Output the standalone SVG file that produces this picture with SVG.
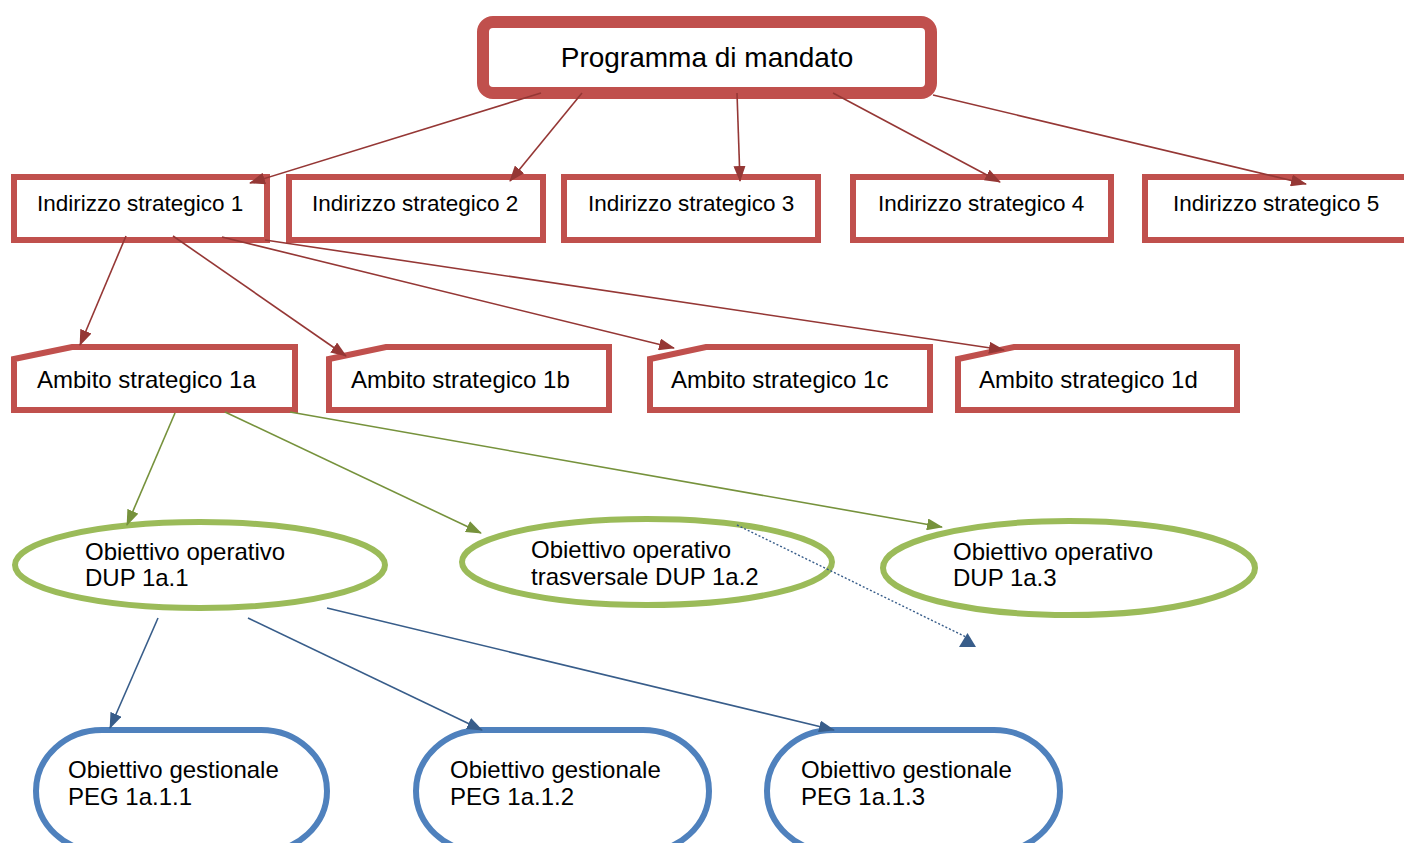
<svg xmlns="http://www.w3.org/2000/svg" width="1404" height="843" viewBox="0 0 1404 843">
<style>
text{font-family:"Liberation Sans",Arial,sans-serif;fill:#000}
.t{font-size:24px}
.ti{font-size:22.5px}
.red{fill:#fff;stroke:#C0504D;stroke-width:6}
.grn{fill:#fff;stroke:#9BBB59;stroke-width:6}
.blu{fill:#fff;stroke:#4F81BD;stroke-width:6}
.cr{stroke:#953735;stroke-width:1.6;fill:none;marker-end:url(#ar)}
.cg{stroke:#76923C;stroke-width:1.6;fill:none;marker-end:url(#ag)}
.cb{stroke:#385D8A;stroke-width:1.6;fill:none;marker-end:url(#ab)}
</style>
<defs>
<marker id="ar" markerUnits="userSpaceOnUse" markerWidth="16" markerHeight="12" refX="15" refY="6" orient="auto"><path d="M0,0 L16,6 L0,12 Z" fill="#953735"/></marker>
<marker id="ag" markerUnits="userSpaceOnUse" markerWidth="16" markerHeight="12" refX="15" refY="6" orient="auto"><path d="M0,0 L16,6 L0,12 Z" fill="#76923C"/></marker>
<marker id="ab" markerUnits="userSpaceOnUse" markerWidth="16" markerHeight="12" refX="15" refY="6" orient="auto"><path d="M0,0 L16,6 L0,12 Z" fill="#385D8A"/></marker>
</defs>
<rect width="1404" height="843" fill="#fff"/>
<g id="programma">
<rect x="483" y="22" width="448" height="71" rx="10" fill="#fff" stroke="#C0504D" stroke-width="12"/>
<text x="707" y="67" font-size="28" text-anchor="middle">Programma di mandato</text>
</g>
<g id="indirizzo1"><rect class="red" x="14" y="177" width="253" height="63"/><text class="ti" x="37" y="211">Indirizzo strategico 1</text></g>
<g id="indirizzo2"><rect class="red" x="289" y="177" width="254" height="63"/><text class="ti" x="312" y="211">Indirizzo strategico 2</text></g>
<g id="indirizzo3"><rect class="red" x="564" y="177" width="254" height="63"/><text class="ti" x="588" y="211">Indirizzo strategico 3</text></g>
<g id="indirizzo4"><rect class="red" x="853" y="177" width="258" height="63"/><text class="ti" x="878" y="211">Indirizzo strategico 4</text></g>
<g id="indirizzo5"><rect class="red" x="1145" y="177" width="270" height="63"/><text class="ti" x="1173" y="211">Indirizzo strategico 5</text></g>
<g id="ambito1a"><path class="red" d="M14,359 L72,347 L295,347 L295,410 L14,410 Z"/><text class="t" x="37" y="388">Ambito strategico 1a</text></g>
<g id="ambito1b"><path class="red" d="M329,359 L386,347 L609,347 L609,410 L329,410 Z"/><text class="t" x="351" y="388">Ambito strategico 1b</text></g>
<g id="ambito1c"><path class="red" d="M650,359 L706,347 L930,347 L930,410 L650,410 Z"/><text class="t" x="671" y="388">Ambito strategico 1c</text></g>
<g id="ambito1d"><path class="red" d="M958,359 L1014,347 L1237,347 L1237,410 L958,410 Z"/><text class="t" x="979" y="388">Ambito strategico 1d</text></g>
<g id="dup1"><ellipse class="grn" cx="200" cy="565" rx="185" ry="43"/><text class="t" x="85" y="560">Obiettivo operativo</text><text class="t" x="85" y="586">DUP 1a.1</text></g>
<g id="dup2"><ellipse class="grn" cx="647" cy="562" rx="185" ry="43"/><text class="t" x="531" y="558">Obiettivo operativo</text><text class="t" x="531" y="585">trasversale DUP 1a.2</text></g>
<g id="dup3"><ellipse class="grn" cx="1069" cy="568" rx="186" ry="47"/><text class="t" x="953" y="560">Obiettivo operativo</text><text class="t" x="953" y="586">DUP 1a.3</text></g>
<g id="peg1"><rect class="blu" x="36" y="730" width="291" height="122" rx="66" ry="61"/><text class="t" x="68" y="778">Obiettivo gestionale</text><text class="t" x="68" y="805">PEG 1a.1.1</text></g>
<g id="peg2"><rect class="blu" x="416" y="730" width="293" height="122" rx="66" ry="61"/><text class="t" x="450" y="778">Obiettivo gestionale</text><text class="t" x="450" y="805">PEG 1a.1.2</text></g>
<g id="peg3"><rect class="blu" x="767" y="730" width="293" height="122" rx="66" ry="61"/><text class="t" x="801" y="778">Obiettivo gestionale</text><text class="t" x="801" y="805">PEG 1a.1.3</text></g>
<g id="connectors">
<line class="cr" x1="541" y1="93" x2="250" y2="183"/>
<line class="cr" x1="582" y1="93" x2="510" y2="181"/>
<line class="cr" x1="737" y1="93" x2="740" y2="181"/>
<line class="cr" x1="833" y1="93" x2="1000" y2="182"/>
<line class="cr" x1="933" y1="95" x2="1306" y2="184"/>
<line class="cr" x1="126" y1="236" x2="80" y2="345"/>
<line class="cr" x1="173" y1="236" x2="346" y2="356"/>
<line class="cr" x1="222" y1="237" x2="674" y2="348"/>
<line class="cr" x1="265" y1="240" x2="1004" y2="350"/>
<line class="cg" x1="175" y1="413" x2="127" y2="525"/>
<line class="cg" x1="225" y1="412" x2="481" y2="533"/>
<line class="cg" x1="290" y1="412" x2="942" y2="527"/>
<line class="cb" x1="158" y1="618" x2="110" y2="728"/>
<line class="cb" x1="248" y1="618" x2="482" y2="730"/>
<line class="cb" x1="327" y1="608" x2="834" y2="730"/>
<line x1="737" y1="525" x2="966" y2="637" stroke="#385D8A" stroke-width="1.4" stroke-dasharray="2,2"/>
<polygon points="959,647 976,647 967.5,633" fill="#385D8A"/>
</g>
</svg>
